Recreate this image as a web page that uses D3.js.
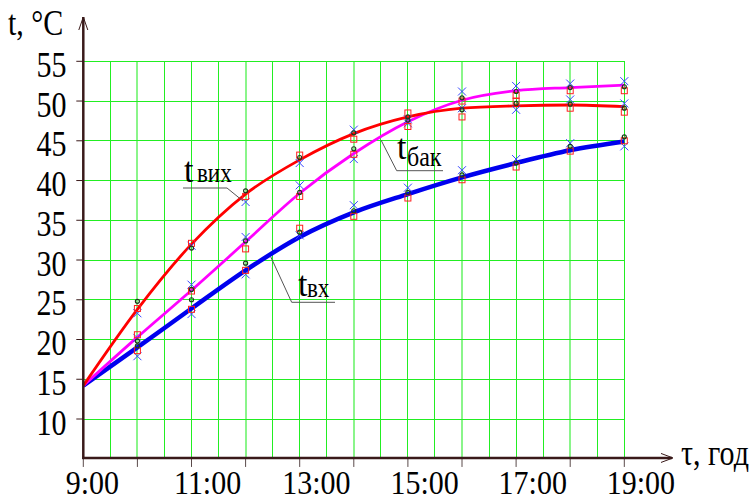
<!DOCTYPE html>
<html>
<head>
<meta charset="utf-8">
<script src="https://cdn.jsdelivr.net/npm/d3@7/dist/d3.min.js"></script>
<style>
  html, body { margin: 0; padding: 0; background: #fff; }
</style>
</head>
<body>
<svg id="chart" width="754" height="501"></svg>
<script>
// --- data ---
const hours = [9, 10, 11, 12, 13, 14, 15, 16, 17, 18, 19];
const tOutCurve  = [14.2, 23.8, 32.0, 38.3, 42.6, 45.9, 48.0, 49.1, 49.4, 49.5, 49.3];
const tTankCurve = [14.2, 20.3, 26.2, 32.3, 38.4, 43.4, 47.4, 50.1, 51.3, 51.7, 52.0];
const tInCurve   = [14.2, 19.0, 23.9, 28.7, 32.9, 36.0, 38.3, 40.4, 42.2, 43.8, 44.9];

// measured points, one per hour from 10:00 to 19:00
const markHours = [10, 11, 12, 13, 14, 15, 16, 17, 18, 19];
const tOutCross   = [23.3, 31.8, 37.3, 42.2, 46.4, 47.7, 49.1, 48.9, 50.2, 49.7];
const tOutSquare  = [23.9, 32.1, 38.0, 43.2, 45.2, 48.5, 48.0, 50.0, 49.1, 48.6];
const tOutCircle  = [24.8, 31.5, 38.7, 42.9, 46.0, 48.0, 48.9, 49.7, 49.6, 49.1];
const tTankCross  = [20.2, 26.9, 32.9, 39.4, 42.7, 47.2, 51.2, 51.9, 52.2, 52.5];
const tTankSquare = [20.6, 26.1, 31.4, 38.0, 43.3, 46.8, 50.0, 50.7, 51.3, 51.3];
const tTankCircle = [19.8, 26.3, 32.4, 38.5, 44.0, 47.6, 50.4, 51.2, 51.7, 51.8];
const tInCross    = [17.9, 23.2, 28.2, 33.1, 36.9, 39.1, 41.3, 42.7, 44.7, 44.3];
const tInSquare   = [18.6, 23.8, 28.7, 34.0, 35.5, 37.8, 40.1, 41.7, 43.7, 45.0];
const tInCircle   = [19.2, 25.0, 29.6, 33.5, 36.2, 38.5, 40.7, 42.2, 44.3, 45.5];

const yTickValues = [10, 15, 20, 25, 30, 35, 40, 45, 50, 55];
const xLabelHours = [9, 11, 13, 15, 17, 19];
const xLabels = ["9:00", "11:00", "13:00", "15:00", "17:00", "19:00"];

// --- scales ---
const x = d3.scaleLinear().domain([9, 19]).range([83.3, 624.3]);
const y = d3.scaleLinear().domain([10, 55]).range([419, 61.3]);
const yBase = 5.1;       // value where the x axis sits
const axisColor = "#3a1a1a";

const svg = d3.select("#chart");

// text stretched a little vertically, like the reference
function label(g, px, py, str, size, anchor, sy = 1.16) {
    return g.append("text")
        .attr("transform", `translate(${px},${py}) scale(1,${sy})`)
        .attr("font-family", "Liberation Serif")
        .attr("font-size", size)
        .attr("fill", "#000")
        .attr("text-anchor", anchor || "start")
        .text(str);
}

// --- grid ---
const grid = svg.append("g").attr("shape-rendering", "crispEdges");
const halfHours = d3.range(9, 19.001, 0.5);
grid.selectAll("line.v")
    .data(halfHours)
    .join("line")
    .attr("class", "v")
    .attr("x1", d => x(d)).attr("x2", d => x(d))
    .attr("y1", y(55)).attr("y2", y(yBase))
    .attr("stroke", d => (d % 2 === 0 && d < 19) ? "#8af58a" : "#22ee22")
    .attr("stroke-width", d => (d % 2 === 0 && d < 19) ? 2 : 1);
grid.selectAll("line.h")
    .data(yTickValues)
    .join("line")
    .attr("class", "h")
    .attr("x1", x(9)).attr("x2", x(19))
    .attr("y1", d => y(d)).attr("y2", d => y(d))
    .attr("stroke", "#22ee22").attr("stroke-width", 1);

// --- ticks ---
svg.append("g").selectAll("line")
    .data(yTickValues)
    .join("line")
    .attr("x1", x(9) - 7).attr("x2", x(9))
    .attr("y1", d => y(d)).attr("y2", d => y(d))
    .attr("stroke", axisColor).attr("stroke-width", 1);
svg.append("g").selectAll("line")
    .data(hours)
    .join("line")
    .attr("x1", d => x(d)).attr("x2", d => x(d))
    .attr("y1", y(yBase)).attr("y2", y(yBase) + 9)
    .attr("stroke", "#5a4a4a").attr("stroke-width", 1);

// --- curves ---
const line = d3.line()
    .x((d, i) => x(hours[i]))
    .y(d => y(d))
    .curve(d3.curveMonotoneX);
const curves = svg.append("g").attr("fill", "none").attr("stroke-linejoin", "round");
curves.append("path").attr("d", line(tInCurve)).attr("stroke", "#0000ee").attr("stroke-width", 4.5);
curves.append("path").attr("d", line(tTankCurve)).attr("stroke", "#ff00ff").attr("stroke-width", 2.8);
curves.append("path").attr("d", line(tOutCurve)).attr("stroke", "#ff0000").attr("stroke-width", 2.8);

// --- markers ---
const marks = svg.append("g").attr("fill", "none");
function crosses(vals) {
    marks.append("g").selectAll("path")
        .data(vals)
        .join("path")
        .attr("d", (d, i) => {
            const cx = x(markHours[i]), cy = y(d);
            return `M${cx - 4},${cy - 4}L${cx + 4},${cy + 4}M${cx - 4},${cy + 4}L${cx + 4},${cy - 4}`;
        })
        .attr("stroke", "#3344ff").attr("stroke-width", 1);
}
function squares(vals) {
    marks.append("g").selectAll("rect")
        .data(vals)
        .join("rect")
        .attr("x", (d, i) => x(markHours[i]) - 3)
        .attr("y", d => y(d) - 3)
        .attr("width", 6).attr("height", 6)
        .attr("stroke", "#ff2020").attr("stroke-width", 1);
}
function circles(vals) {
    marks.append("g").selectAll("circle")
        .data(vals)
        .join("circle")
        .attr("cx", (d, i) => x(markHours[i]))
        .attr("cy", d => y(d))
        .attr("r", 2)
        .attr("stroke", "#1e3a1e").attr("stroke-width", 1.2);
}
[tOutCross, tTankCross, tInCross].forEach(crosses);
[tOutSquare, tTankSquare, tInSquare].forEach(squares);
[tOutCircle, tTankCircle, tInCircle].forEach(circles);

// --- axes with arrows ---
const axes = svg.append("g").attr("stroke", axisColor).attr("fill", "none");
axes.append("line")
    .attr("x1", x(9)).attr("x2", x(9))
    .attr("y1", y(yBase) + 1).attr("y2", 17)
    .attr("stroke-width", 2.5);
axes.append("path")
    .attr("d", `M${x(9) - 4.5},30L${x(9)},17L${x(9) + 4.5},30`)
    .attr("stroke-width", 1);
axes.append("line")
    .attr("x1", x(9) - 1).attr("x2", 672)
    .attr("y1", y(yBase)).attr("y2", y(yBase))
    .attr("stroke-width", 2.5);
axes.append("path")
    .attr("d", `M661,${y(yBase) - 4.5}L673,${y(yBase)}L661,${y(yBase) + 4.5}`)
    .attr("stroke-width", 1);

// --- tick labels ---
const labels = svg.append("g");
yTickValues.forEach(v => label(labels, 66.5, y(v) + 15.5, String(v), 30, "end"));
xLabelHours.forEach((h, i) => label(labels, x(h) - 17.5, 493.5, xLabels[i], 30, "start", 1.1));

// axis titles
label(labels, 8, 35, "t, °C", 30, "start");
label(labels, 681, 465, "τ, год", 30, "start");

// --- curve annotations with leaders ---
const notes = svg.append("g");
const leader = notes.append("g").attr("fill", "none").attr("stroke", "#555").attr("stroke-width", 1);
leader.append("path").attr("d", "M183,188L227,188L243,201");
leader.append("path").attr("d", "M443,170.7L396.7,170.7L381,140");
leader.append("path").attr("d", "M335,302.3L291.7,302.3L270.7,256.7");

label(notes, 184, 182, "t", 34, "start", 1.05);
label(notes, 197, 182, "вих", 23, "start");
label(notes, 397, 159, "t", 34, "start", 1.05);
label(notes, 407, 166, "бак", 24, "start");
label(notes, 298, 296, "t", 34, "start", 1.05);
label(notes, 307, 296.5, "вх", 23, "start");
</script>
</body>
</html>
